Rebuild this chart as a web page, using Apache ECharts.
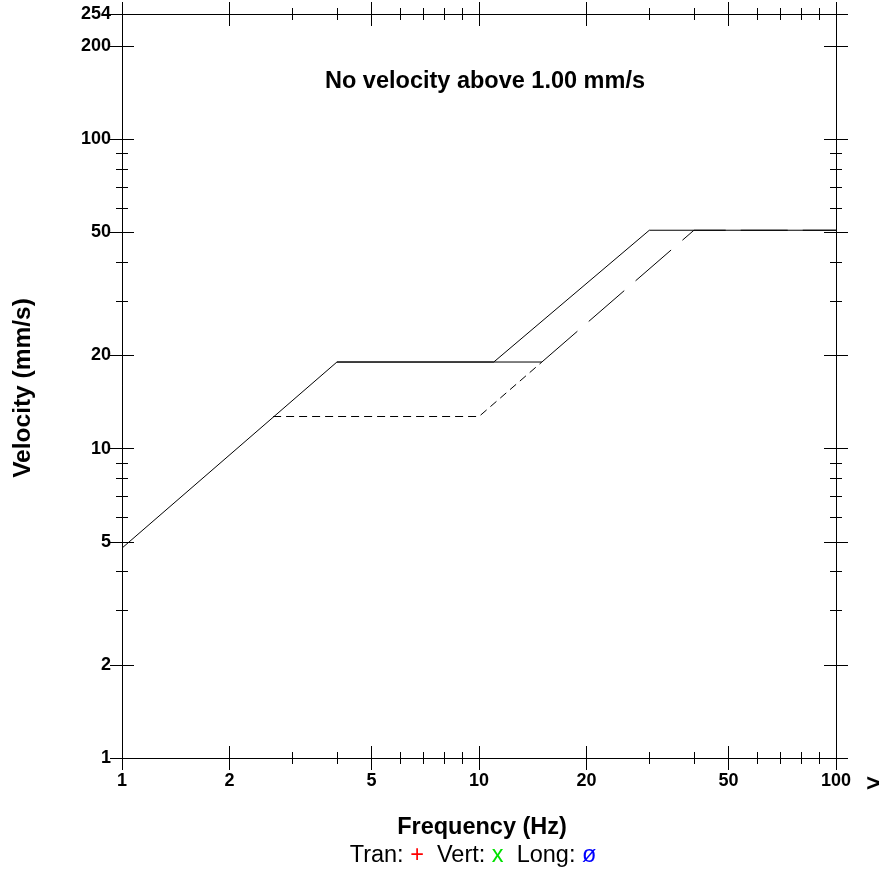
<!DOCTYPE html>
<html>
<head>
<meta charset="utf-8">
<script src="https://cdn.jsdelivr.net/npm/echarts@6/dist/echarts.min.js"></script>
<style>
html,body{margin:0;padding:0;background:#fff;}
#chart{width:888px;height:869px;}
</style>
</head>
<body>
<div id="chart"></div>
<script>
// ---- data (raw Hz / mm/s values) ----
var xMajorTicks = [1, 2, 5, 10, 20, 50, 100];
var xMinorTicks = [3, 4, 6, 7, 8, 9, 30, 40, 60, 70, 80, 90];
var yMajorTicks = [1, 2, 5, 10, 20, 50, 100, 200, 254];
var yMinorTicks = [3, 4, 6, 7, 8, 9, 30, 40, 60, 70, 80, 90];
var xRange = [1, 100];
var yRange = [1, 254];

// OSM-style limit curve (solid)
var osmFreq = [1, 4, 11, 30, 100];
var osmVel  = [4.77, 19.05, 19.05, 50.8, 50.8];
// drywall flat part (solid)
var drywallFlatFreq = [4, 15];
var drywallFlatVel  = [19.05, 19.05];
// drywall rising part (long dash)
var drywallRiseFreq = [15, 40, 100];
var drywallRiseVel  = [19.05, 50.8, 50.8];
// plaster curve (short dash)
var plasterFreq = [2.65, 10, 15];
var plasterVel  = [12.7, 12.7, 19.05];

var titleText = 'No velocity above 1.00 mm/s';
var xName = 'Frequency (Hz)';
var yName = 'Velocity (mm/s)';

// ---- build ----
var L = Math.log10;
function pts(fx, vy) { return fx.map(function (f, i) { return [L(f), L(vy[i])]; }); }
function fmt(v) { return String(Math.round(Math.pow(10, v))); }

var xMin = L(xRange[0]), xMax = L(xRange[1]);
var yMin = L(yRange[0]), yMax = L(yRange[1]);
var xMaj = xMajorTicks.map(L), xMin_ = xMinorTicks.map(L);
var yMaj = yMajorTicks.map(L), yMin_ = yMinorTicks.map(L);

var labelFont = {fontFamily: 'Liberation Sans, Arial, sans-serif', fontWeight: 'bold', fontSize: 18, color: '#000'};

function ax(kind, pos, opts) {
  var a = {
    type: 'value', position: pos,
    min: kind === 'x' ? xMin : yMin, max: kind === 'x' ? xMax : yMax,
    offset: opts.offset || 0,
    axisLine: {show: !!opts.line, onZero: false, lineStyle: {color: '#000', width: 1}},
    axisTick: {show: !!opts.ticks, customValues: opts.ticks || [], length: opts.len || 0, inside: false,
      lineStyle: {color: '#000', width: 1}},
    axisLabel: {show: !!opts.labels, customValues: opts.labels ? (kind === 'x' ? xMaj : yMaj) : undefined,
      formatter: fmt, margin: kind === 'x' ? 14 : 11},
    splitLine: {show: false}
  };
  Object.assign(a.axisLabel, labelFont);
  return a;
}

var xAxes = [
  ax('x', 'bottom', {line: true, labels: true}),
  ax('x', 'bottom', {offset: -12, ticks: xMaj, len: 24}),
  ax('x', 'bottom', {offset: -6, ticks: xMin_, len: 12}),
  ax('x', 'top', {line: true}),
  ax('x', 'top', {offset: -12, ticks: xMaj, len: 24}),
  ax('x', 'top', {offset: -6, ticks: xMin_, len: 12})
];
var yAxes = [
  ax('y', 'left', {line: true, labels: true}),
  ax('y', 'left', {offset: -12, ticks: yMaj, len: 24}),
  ax('y', 'left', {offset: -6, ticks: yMin_, len: 12}),
  ax('y', 'right', {line: true}),
  ax('y', 'right', {offset: -12, ticks: yMaj, len: 24}),
  ax('y', 'right', {offset: -6, ticks: yMin_, len: 12})
];

function line(data, type, dash) {
  return {
    type: 'line', xAxisIndex: 0, yAxisIndex: 0, data: data, symbol: 'none', silent: true,
    animation: false,
    lineStyle: {color: '#000', width: 1, type: dash ? dash : type}
  };
}

var bold = 'bold 23.5px "Liberation Sans", Arial, sans-serif';
var reg = '23.5px "Liberation Sans", Arial, sans-serif';

var chart = echarts.init(document.getElementById('chart'), null, {renderer: 'canvas'});
chart.setOption({
  animation: false,
  backgroundColor: '#fff',
  grid: {left: 122, top: 14, width: 714, height: 744, containLabel: false},
  xAxis: xAxes,
  yAxis: yAxes,
  series: [
    line(pts(plasterFreq, plasterVel), 'dashed', [8, 5]),
    line(pts(drywallRiseFreq, drywallRiseVel), 'dashed', [47, 15]),
    line(pts(drywallFlatFreq, drywallFlatVel), 'solid'),
    line(pts(osmFreq, osmVel), 'solid')
  ],
  graphic: [
    {type: 'text', style: {text: titleText, x: 485, y: 82, align: 'center', verticalAlign: 'middle',
      font: bold, fill: '#000'}},
    {type: 'text', style: {text: xName, x: 482, y: 828, align: 'center', verticalAlign: 'middle',
      font: bold, fill: '#000'}},
    {type: 'text', x: 23, y: 388, rotation: Math.PI / 2, style: {text: yName, x: 0, y: 0, align: 'center', verticalAlign: 'middle',
      font: 'bold 24.5px "Liberation Sans", Arial, sans-serif', fill: '#000'}},
    {type: 'text', x: 873, y: 785, style: {text: '>', x: 0, y: 0, align: 'center', verticalAlign: 'middle',
      font: bold, fill: '#000'}},
    {type: 'text', style: {x: 473, y: 856, align: 'center', verticalAlign: 'middle',
      text: '{t|Tran: }{r|+}{t|  Vert: }{g|x}{t|  Long: }{b|ø}',
      rich: {
        t: {font: reg, fill: '#000'},
        r: {font: reg, fill: '#ff0000'},
        g: {font: reg, fill: '#00e000'},
        b: {font: reg, fill: '#0000ff'}
      }}}
  ]
});
</script>
</body>
</html>
